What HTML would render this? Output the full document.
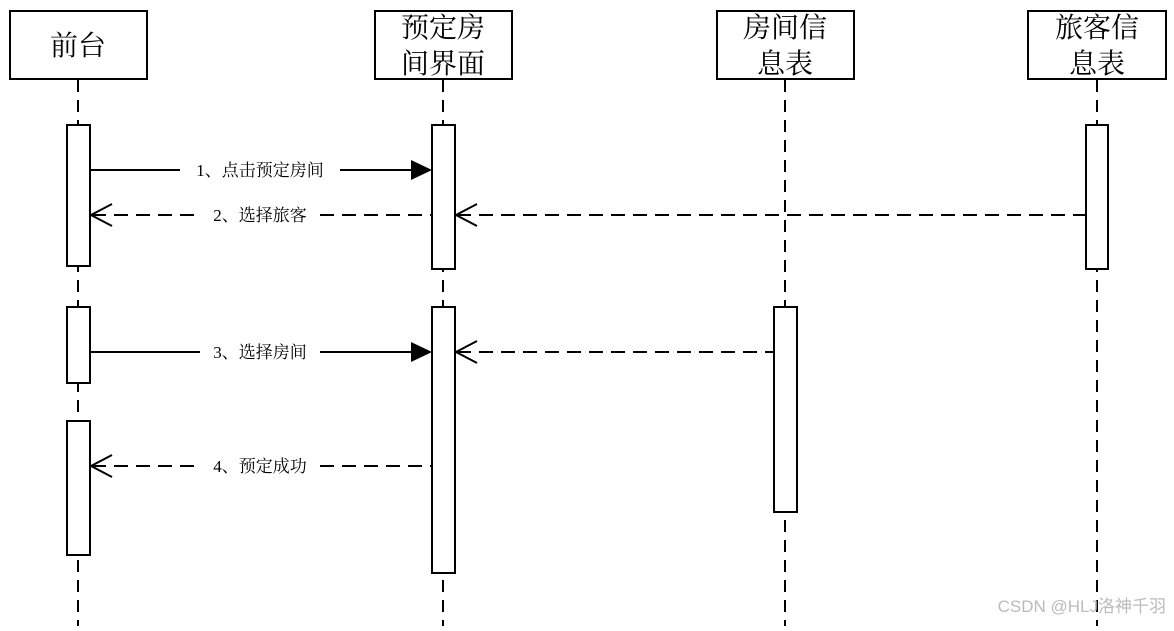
<!DOCTYPE html>
<html><head><meta charset="utf-8"><style>html,body{margin:0;padding:0;background:#fff}</style></head>
<body>
<svg width="1174" height="626" viewBox="0 0 1174 626" xmlns="http://www.w3.org/2000/svg">
<g stroke="#000" stroke-width="2" fill="#fff">
<rect x="10" y="11" width="137" height="68"/>
<rect x="375" y="11" width="137" height="68"/>
<rect x="717" y="11" width="137" height="68"/>
<rect x="1028" y="11" width="138" height="68"/>
</g>
<g stroke="#000" stroke-width="2" stroke-dasharray="12,8">
<line x1="78" y1="80" x2="78" y2="626"/>
<line x1="443" y1="80" x2="443" y2="626"/>
<line x1="785" y1="80" x2="785" y2="626"/>
<line x1="1097" y1="80" x2="1097" y2="626"/>
</g>
<g stroke="#000" stroke-width="2" fill="#fff">
<rect x="67" y="125" width="23" height="141"/>
<rect x="67" y="307" width="23" height="76"/>
<rect x="67" y="421" width="23" height="134"/>
<rect x="432" y="125" width="23" height="144"/>
<rect x="432" y="307" width="23" height="266"/>
<rect x="774" y="307" width="23" height="205"/>
<rect x="1086" y="125" width="22" height="144"/>
</g>
<g font-family="'Liberation Serif','Noto Serif CJK SC',serif" font-size="28" text-anchor="middle" fill="#000">
<text x="78" y="55">前台</text>
<text x="443" y="37">预定房</text><text x="443" y="73">间界面</text>
<text x="785" y="37">房间信</text><text x="785" y="73">息表</text>
<text x="1097" y="37">旅客信</text><text x="1097" y="73">息表</text>
</g>
<g stroke="#000" stroke-width="2" fill="none">
<line x1="90" y1="170" x2="180" y2="170"/><line x1="340" y1="170" x2="414" y2="170"/>
<line x1="90" y1="352" x2="200" y2="352"/><line x1="320" y1="352" x2="414" y2="352"/>
<g stroke-dasharray="14,8">
<line x1="92" y1="215" x2="200" y2="215"/><line x1="320" y1="215" x2="432" y2="215"/>
<line x1="457" y1="215" x2="1086" y2="215"/>
<line x1="457" y1="352" x2="774" y2="352"/>
<line x1="92" y1="466" x2="200" y2="466"/><line x1="320" y1="466" x2="432" y2="466"/>
</g>
<polyline points="112,204 91,215 112,226"/>
<polyline points="477,204 456,215 477,226"/>
<polyline points="477,341 456,352 477,363"/>
<polyline points="112,455 91,466 112,477"/>
</g>
<g fill="#000">
<polygon points="411,160 432,170 411,180"/>
<polygon points="411,342 432,352 411,362"/>
</g>
<g font-family="'Liberation Serif','Noto Serif CJK SC',serif" font-size="17" text-anchor="middle" fill="#000">
<text x="260" y="176">1、点击预定房间</text>
<text x="260" y="221">2、选择旅客</text>
<text x="260" y="358">3、选择房间</text>
<text x="260" y="472">4、预定成功</text>
</g>
<text x="1166" y="612" text-anchor="end" font-family="'Liberation Sans','Noto Sans CJK SC',sans-serif" font-size="17" fill="#bbb">CSDN @HLJ洛神千羽</text>
</svg>
</body></html>
